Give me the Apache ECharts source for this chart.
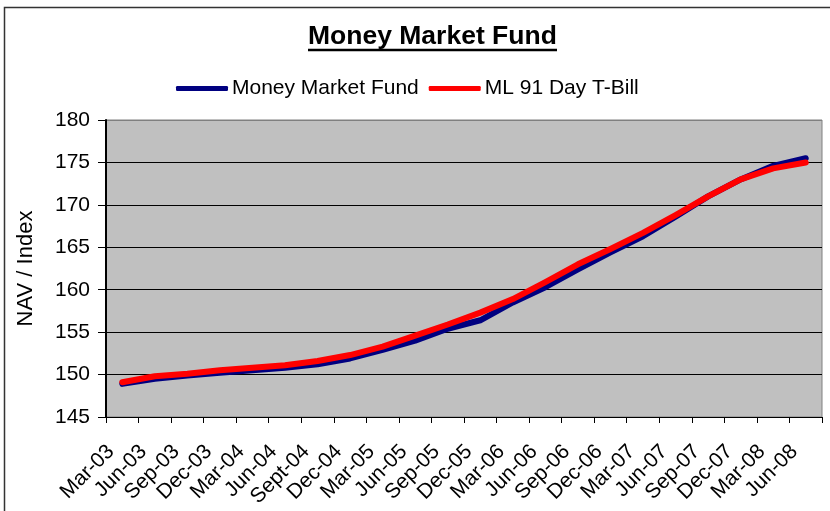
<!DOCTYPE html>
<html>
<head>
<meta charset="utf-8">
<script src="https://cdn.jsdelivr.net/npm/echarts@6/dist/echarts.min.js"></script>
<style>
  html, body { margin: 0; padding: 0; background: #fff; }
  #chart { width: 830px; height: 511px; }
</style>
</head>
<body>
<div id="chart"></div>
<script>
var quarters = ['Mar-03', 'Jun-03', 'Sep-03', 'Dec-03', 'Mar-04', 'Jun-04', 'Sept-04', 'Dec-04',
    'Mar-05', 'Jun-05', 'Sep-05', 'Dec-05', 'Mar-06', 'Jun-06', 'Sep-06', 'Dec-06',
    'Mar-07', 'Jun-07', 'Sep-07', 'Dec-07', 'Mar-08', 'Jun-08'];

var moneyMarket = [148.9, 149.5, 149.9, 150.2, 150.5, 150.8, 151.2, 151.9,
    152.9, 154.0, 155.4, 156.4, 158.5, 160.3, 162.4, 164.4,
    166.3, 168.6, 171.0, 173.0, 174.6, 175.5];

var tBill = [149.1, 149.8, 150.1, 150.5, 150.8, 151.1, 151.6, 152.3,
    153.3, 154.6, 155.9, 157.3, 158.9, 160.9, 163.0, 164.8,
    166.7, 168.8, 171.0, 173.0, 174.3, 175.0];

var yTicks = [145, 180, 5]; // min, max, step

var font = 'Liberation Sans, Arial, sans-serif';
var chart = echarts.init(document.getElementById('chart'));

// gridlines black, the top one stays grey like the plot border
var gridColors = [];
for (var v = yTicks[0]; v <= yTicks[1]; v += yTicks[2]) {
    gridColors.push(v === yTicks[1] ? '#808080' : '#000');
}

chart.setOption({
    backgroundColor: '#ffffff',
    animation: false,
    title: {
        text: 'Money Market Fund',
        left: 308,
        top: 23,
        padding: 0,
        textStyle: {
            fontFamily: font,
            fontSize: 26.5,
            fontWeight: 'bold',
            color: '#000'
        }
    },
    legend: {
        left: 176,
        top: 78,
        padding: 0,
        itemGap: 10,
        itemWidth: 52,
        itemHeight: 5,
        icon: 'roundRect',
        textStyle: {
            fontFamily: font,
            fontSize: 21,
            color: '#000',
            padding: [0, 0, 0, -1]
        },
        data: ['Money Market Fund', 'ML 91 Day T-Bill']
    },
    graphic: [
        {
            type: 'line',
            shape: {x1: 308, y1: 50, x2: 557, y2: 50},
            style: {stroke: '#000', lineWidth: 2.5}
        },
        {
            type: 'polyline',
            shape: {points: [[4.5, 520], [4.5, 7.5], [840, 7.5]]},
            style: {stroke: '#333', lineWidth: 1.5, fill: null}
        }
    ],
    grid: {
        left: 106,
        right: 8,
        top: 120,
        bottom: 94,
        show: true,
        backgroundColor: '#c0c0c0',
        borderColor: '#808080',
        borderWidth: 1
    },
    xAxis: {
        type: 'category',
        boundaryGap: true,
        data: quarters,
        axisLine: {lineStyle: {color: '#000', width: 1}},
        axisTick: {show: true, length: 6, alignWithLabel: false, lineStyle: {color: '#000'}},
        axisLabel: {
            rotate: 45,
            interval: 0,
            margin: 20,
            padding: [0, 16, 0, 0],
            fontFamily: font,
            fontSize: 21,
            color: '#000'
        }
    },
    yAxis: {
        type: 'value',
        min: yTicks[0],
        max: yTicks[1],
        interval: yTicks[2],
        name: 'NAV / Index',
        nameLocation: 'middle',
        nameGap: 69,
        nameTextStyle: {fontFamily: font, fontSize: 22, color: '#000'},
        axisLine: {show: true, lineStyle: {color: '#000', width: 2}},
        axisTick: {show: true, length: 8, lineStyle: {color: '#000'}},
        axisLabel: {
            margin: 16,
            fontFamily: font,
            fontSize: 21,
            color: '#000'
        },
        splitLine: {show: true, lineStyle: {color: gridColors, width: 1}}
    },
    series: [
        {
            name: 'Money Market Fund',
            type: 'line',
            data: moneyMarket,
            symbol: 'none',
            color: '#000080',
            lineStyle: {width: 6, color: '#000080', cap: 'round', join: 'round'}
        },
        {
            name: 'ML 91 Day T-Bill',
            type: 'line',
            data: tBill,
            symbol: 'none',
            color: '#ff0000',
            lineStyle: {width: 6, color: '#ff0000', cap: 'round', join: 'round'}
        }
    ]
});
</script>
</body>
</html>
